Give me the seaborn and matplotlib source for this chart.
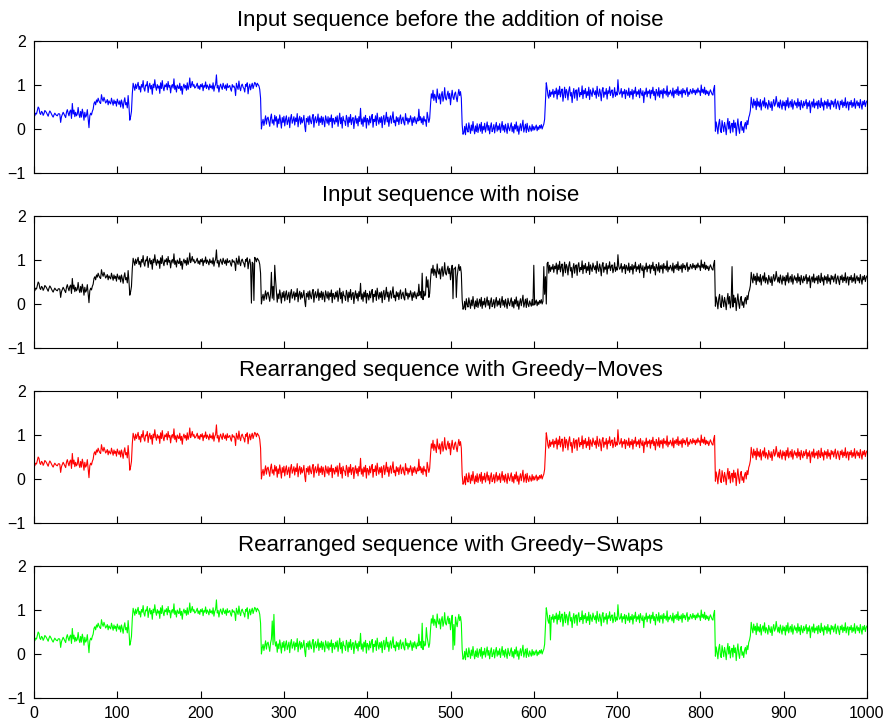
import numpy as np
import pandas as pd
import matplotlib
matplotlib.use("Agg")
import matplotlib.pyplot as plt
import seaborn as sns

# Clean input signal, in hundredths, one list per piecewise-constant segment
seg_a = [30, 36, 34, 42, 50, 47, 36, 33, 40, 38,
         31, 35, 42, 40, 37, 33, 29, 36, 41, 38,
         34, 30, 27, 32, 36, 33, 31, 30, 34, 35,
         33, 15, 28, 33, 38, 34, 30, 26, 38, 44,
         36, 30, 40, 43, 24, 58, 34, 43, 28, 38,
         30, 34, 49, 33, 26, 40, 27, 45, 36, 20,
         38, 27, 31, 44, 24, 3, 30, 36, 32, 40]
seg_b = [45, 58, 62, 55, 66, 61, 70, 64, 60, 58,
         78, 68, 63, 72, 66, 59, 62, 67, 55, 64,
         60, 57, 70, 62, 54, 66, 58, 63, 52, 68,
         61, 56, 64, 50, 66, 58, 47, 62, 71, 55,
         60, 48, 76, 52, 20, 28, 40]
seg_c = [80, 104, 96, 88, 102, 92, 99, 106, 90, 97,
         84, 101, 95, 110, 92, 86, 100, 98, 108, 83,
         97, 104, 91, 99, 79, 102, 94, 112, 96, 88,
         101, 93, 98, 81, 105, 92, 110, 94, 87, 100,
         96, 103, 89, 108, 95, 99, 82, 97, 101, 93,
         114, 90, 98, 84, 100, 95, 92, 104, 88, 97,
         79, 96, 102, 93, 99, 88, 105, 90, 97, 116,
         94, 100, 108, 97, 101, 93, 95, 99, 104, 92,
         98, 90, 101, 96, 103, 87, 99, 95, 107, 92,
         100, 96, 89, 102, 94, 98, 91, 105, 86, 97,
         101, 123, 93, 99, 84, 96, 102, 95, 90, 104,
         97, 92, 100, 88, 103, 94, 96, 99, 91, 86,
         101, 95, 98, 93, 76, 104, 96, 90, 109, 94,
         87, 99, 102, 95, 92, 84, 101, 97, 105, 80,
         95, 102, 89, 98, 104, 92, 99, 106, 103, 96,
         104, 101, 98, 90, 70]
seg_d = [0, 14, 22, 8, 19, 30, 11, 24, 27, 16,
         6, 25, 34, 13, 21, 9, 31, 18, 28, 4,
         23, 12, 32, 19, 2, 26, 15, 29, 7, 22,
         30, 10, 18, 27, 3, 24, 33, 13, 20, 28,
         9, 25, 17, 35, 5, 22, 29, 11, 26, 14,
         20, 31, 7, -6, 24, 16, 28, 10, 30, 18,
         12, 26, 33, 4, 22, 28, 14, 19, 34, 8,
         25, 15, 29, 10, 27, 18, 5, 30, 21, 13,
         28, 9, 25, 17, 32, 3, 24, 19, 11, 27,
         16, 30, 6, 22, 36, 12, 26, 2, 29, 19,
         18, 8, 31, 23, 5, 27, 15, 33, 10, 22,
         26, 1, 20, 30, 13, 24, 7, 28, 17, 47,
         11, 23, 6, 27, 16, 31, 2, 24, 20, 9,
         29, 14, 25, 33, 4, 22, 17, 30, 8, 36,
         21, 11, 26, 15, 28, 3, 24, 31, 10, 22,
         38, 16, 27, 6, 23, 30, 13, 25, 39, 15,
         20, 7, 28, 17, 26, 10, 24, 32, 12, 22,
         27, 14, 9, 35, 19, 25, 11, 24, 16, 30,
         22, 8, 26, 15, 28, 19, 12, 25, 18, 45,
         20, 28, 14, 25, 10, 29, 18, 21, 6, 38,
         27, 15, 24]
seg_e = [55, 80, 70, 88, 65, 79, 72, 60, 91, 74,
         68, 80, 57, 77, 85, 63, 72, 94, 70, 66,
         78, 86, 69, 81, 55, 74, 88, 72, 67, 80,
         84, 71, 62, 78, 90, 76, 85, 70, 10]
seg_f = [-12, -9, 6, -13, 12, -1, -7, 14, 2, -10,
         9, -4, 17, 0, -11, 7, -6, 12, -8, 3,
         11, -5, 15, -10, 6, -2, 13, -7, 4, 16,
         -3, 8, -11, 5, 14, -6, 0, 10, -9, 6,
         15, -5, 7, -2, 12, -8, 4, 17, -3, 8,
         -7, 11, 1, -10, 13, 2, -4, 7, 14, -6,
         6, -9, 10, 0, 16, -5, 7, -12, 3, 12,
         -4, 8, 20, -7, 2, 11, -8, 13, -1, -6,
         7, 1, -5, 10, -3, 6, -2, 4, 9, -4,
         5, -1, 8, 2, 10, 0, 6, 11, 22]
seg_g = [62, 105, 92, 76, 70, 88, 74, 84, 79, 90,
         72, 86, 80, 93, 68, 89, 78, 97, 73, 85,
         91, 63, 80, 95, 71, 90, 84, 66, 87, 96,
         75, 83, 60, 81, 92, 70, 86, 89, 65, 87,
         94, 73, 83, 78, 98, 69, 88, 80, 92, 71,
         85, 76, 95, 67, 89, 81, 74, 93, 84, 78,
         87, 70, 97, 80, 74, 91, 82, 64, 88, 94,
         72, 84, 79, 92, 68, 87, 81, 96, 76, 85,
         89, 71, 80, 94, 74, 84, 77, 112, 86, 79,
         82, 92, 72, 85, 80, 90, 69, 88, 82, 76,
         93, 72, 85, 78, 90, 68, 87, 81, 95, 74,
         85, 79, 89, 71, 92, 82, 76, 87, 60, 84,
         79, 93, 73, 86, 81, 89, 70, 88, 80, 95,
         76, 85, 66, 90, 83, 75, 94, 72, 87, 80,
         89, 70, 92, 81, 86, 77, 98, 73, 84, 79,
         88, 82, 75, 93, 71, 87, 81, 90, 78, 96,
         76, 86, 80, 89, 72, 92, 82, 88, 78, 87,
         94, 74, 84, 79, 90, 85, 80, 92, 83, 88,
         78, 89, 82, 93, 84, 87, 76, 100, 83, 90,
         81, 95, 78, 88, 80, 86, 76, 83, 89, 84,
         79, 77, 91, 99]
seg_h = [-5, 16, 4, -11, 12, 22, -2, -8, 19, 6,
         -6, 15, 4, -13, 9, 24, 0, 17, -9, 8,
         13, -7, 20, 3, 14, -15, 7, 23, 1, -10,
         11, 17, -3, 5, -8, 9, 15, 0, 19, 10,
         26, 32]
seg_i = [42, 72, 58, 48, 68, 54, 63, 44, 70, 52,
         62, 50, 67, 43, 58, 64, 52, 71, 48, 60,
         55, 45, 65, 56, 49, 62, 42, 58, 67, 52,
         57, 74, 60, 50, 61, 48, 66, 55, 45, 64,
         53, 61, 43, 65, 52, 71, 48, 58, 63, 50,
         67, 45, 57, 64, 54, 60, 48, 69, 52, 61,
         44, 65, 55, 48, 63, 53, 59, 67, 46, 60,
         52, 64, 37, 57, 62, 50, 68, 48, 59, 54,
         63, 46, 65, 55, 49, 70, 52, 60, 43, 64,
         55, 62, 47, 67, 52, 59, 45, 65, 56, 63,
         50, 60, 68, 46, 57, 64, 53, 44, 63, 55,
         66, 49, 61, 53, 71, 48, 59, 62, 43, 61,
         55, 65, 49, 60, 52, 69, 47, 58, 64, 53,
         60, 48, 67, 56, 45, 63, 55, 65, 51, 60,
         64]

# Samples corrupted by noise (index -> value in hundredths)
noise_hits = {260: 2, 261: 95, 263: 8, 284: 72, 286: 40, 288: 88, 289: 55,
              465: 70, 470: 62, 472: 55, 502: 12, 503: 80, 506: 15,
              599: 88, 611: 85, 614: 0, 616: 95, 837: 85}
# Corrupted samples still left after Greedy-Swaps
swap_left = {285: 75, 287: 90, 465: 70, 470: 60, 502: 10, 504: 20, 619: 32}

titles = ["Input sequence before the addition of noise",
          "Input sequence with noise",
          "Rearranged sequence with Greedy\u2212Moves",
          "Rearranged sequence with Greedy\u2212Swaps"]
colors = ["#0000ff", "#000000", "#ff0000", "#00ff00"]
x_ticks = list(range(0, 1001, 100))
y_ticks = [-1, 0, 1, 2]

clean = np.array(seg_a + seg_b + seg_c + seg_d + seg_e + seg_f + seg_g + seg_h + seg_i) / 100.0
noisy = clean.copy()
for k, v in noise_hits.items():
    noisy[k] = v / 100.0
swaps = clean.copy()
for k, v in swap_left.items():
    swaps[k] = v / 100.0
moves = clean.copy()

series = [clean, noisy, moves, swaps]
idx = np.arange(1, len(clean) + 1)

sns.set_style("ticks")
plt.rcParams["font.family"] = ["Liberation Sans", "DejaVu Sans"]
plt.rcParams["text.color"] = "black"

fig = plt.figure(figsize=(8.92, 7.25), dpi=100)
left, width, height = 34 / 892, 833 / 892, 132 / 725
bottoms = [1 - 173 / 725, 1 - 348 / 725, 1 - 523 / 725, 1 - 698 / 725]

for i, (ys, title, col) in enumerate(zip(series, titles, colors)):
    ax = fig.add_axes([left, bottoms[i], width, height])
    df = pd.DataFrame({"n": idx, "v": ys})
    sns.lineplot(data=df, x="n", y="v", ax=ax, color=col, linewidth=0.8,
                 estimator=None, legend=False)
    ax.set_xlim(0, 1000)
    ax.set_ylim(-1, 2)
    ax.set_xticks(x_ticks)
    ax.set_yticks(y_ticks)
    ax.set_xlabel("")
    ax.set_ylabel("")
    ax.tick_params(direction="in", length=5, width=0.8, top=True, right=True,
                   labelsize=11.5, colors="black", pad=6)
    if i < 3:
        ax.tick_params(labelbottom=False)
    for sp in ax.spines.values():
        sp.set_visible(True)
        sp.set_linewidth(0.8)
        sp.set_color("black")
    ax.set_title(title, fontsize=16, pad=11, color="black")

fig.savefig("out.png", dpi=100)
